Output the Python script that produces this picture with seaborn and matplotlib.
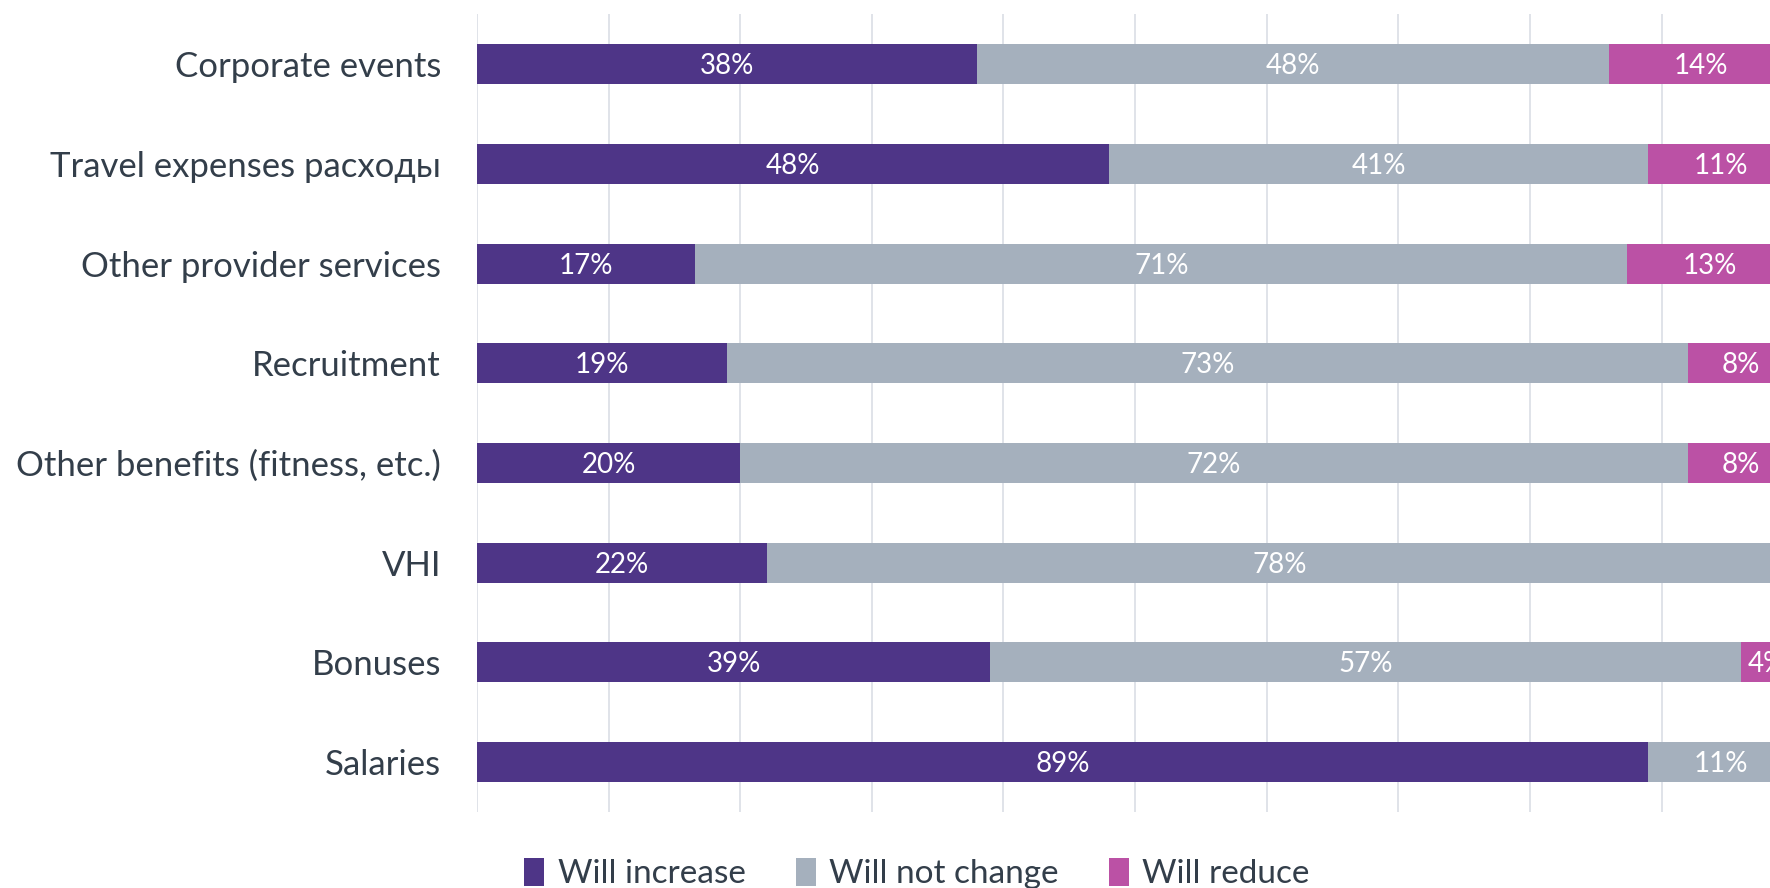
import matplotlib
matplotlib.use('Agg')
from matplotlib import pyplot as plt
from matplotlib.patches import Patch
import seaborn as sns
import pandas as pd

# data
categories = ['Corporate events', 'Travel expenses расходы', 'Other provider services',
              'Recruitment', 'Other benefits (fitness, etc.)', 'VHI', 'Bonuses', 'Salaries']
increase = [38, 48, 16.6, 19, 20, 22, 39, 89]
no_change = [48, 41, 70.8, 73, 72, 78, 57, 11]
reduce = [14, 11, 12.6, 8, 8, 0, 4, 0]
series_names = ['Will increase', 'Will not change', 'Will reduce']
colors = ['#4E3587', '#A5B0BD', '#BB51A5']
text_color = '#333E4A'

sns.set_style('white')
plt.rcParams['font.family'] = ['Lato', 'DejaVu Sans']

df = pd.DataFrame({'cat': categories, 'inc': increase, 'same': no_change, 'red': reduce})
df['c1'] = df.inc
df['c2'] = df.inc + df.same
df['c3'] = df.inc + df.same + df.red

fig = plt.figure(figsize=(17.7, 8.88), dpi=100)
ax = fig.add_axes([0.2695, 0.0856, 0.7436, 0.8983])

# stacked bars: draw totals first, then overlay shorter ones
for col, c in zip(['c3', 'c2', 'c1'], colors[::-1]):
    sns.barplot(data=df, x=col, y='cat', orient='h', color=c, saturation=1,
                width=0.4, linewidth=0, ax=ax, zorder=3)

# value labels in the middle of each segment
for i, row in df.iterrows():
    starts = [0, row.c1, row.c2]
    vals = [row.inc, row.same, row.red]
    for s, v in zip(starts, vals):
        if v > 0:
            ax.text(s + v / 2, i + 0.02, f'{round(v)}%', ha='center', va='center',
                    color='white', fontsize=20, zorder=4)

ax.set_xlim(0, 100)
ax.set_ylim(7.5, -0.5)
ax.set_xticks(range(0, 101, 10))
ax.set_xticklabels([])
ax.grid(axis='x', color='#DDE1E7', linewidth=1.3, zorder=0)
ax.grid(axis='y', visible=False)
ax.set_xlabel('')
ax.set_ylabel('')
ax.tick_params(axis='both', length=0)
ax.tick_params(axis='y', labelsize=25, labelcolor=text_color, pad=26)
for sp in ax.spines.values():
    sp.set_visible(False)

handles = [Patch(facecolor=c, edgecolor='none') for c in colors]
fig.legend(handles, series_names, loc='center', bbox_to_anchor=(0.518, 0.016),
           ncol=3, frameon=False, fontsize=24, labelcolor=text_color,
           handlelength=0.6, handleheight=0.9, handletextpad=0.4, columnspacing=1.5)

fig.savefig('out.png', dpi=100)
